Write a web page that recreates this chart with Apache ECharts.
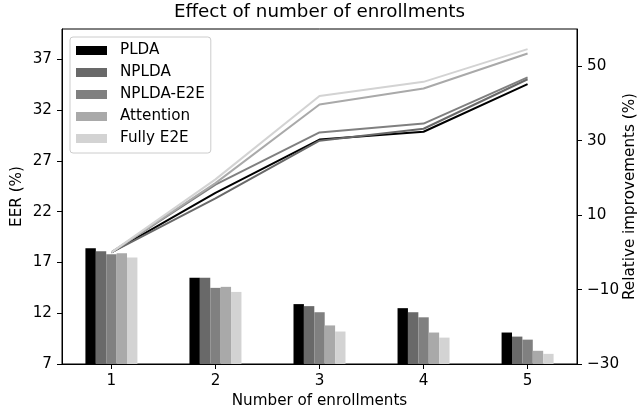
<!DOCTYPE html>
<html>
<head>
<meta charset="utf-8">
<script src="https://cdn.jsdelivr.net/npm/echarts@6/dist/echarts.min.js"></script>
<style>html,body{margin:0;padding:0;background:#fff}#c{width:639px;height:414px}</style>
</head>
<body>
<div id="c"></div>
<script>
// ---- data ----
var categories = [1, 2, 3, 4, 5];
var seriesNames = ['PLDA', 'NPLDA', 'NPLDA-E2E', 'Attention', 'Fully E2E'];
// EER (%) bars
var eerPLDA      = [18.4, 15.5, 12.9, 12.5, 10.1];
var eerNPLDA     = [18.1, 15.5, 12.7, 12.1, 9.7];
var eerNPLDAE2E  = [17.8, 14.5, 12.1, 11.6, 9.4];
var eerAttention = [17.9, 14.6, 10.8, 10.1, 8.3];
var eerFullyE2E  = [17.5, 14.1, 10.2, 9.6, 8.0];
// Relative improvements (%) lines
var relPLDA      = [0, 16.0, 30.3, 32.4, 45.2];
var relNPLDA     = [0, 14.5, 30.0, 33.2, 46.5];
var relNPLDAE2E  = [0, 18.2, 32.2, 34.6, 47.0];
var relAttention = [0, 18.6, 39.7, 44.0, 53.4];
var relFullyE2E  = [0, 19.6, 42.0, 45.8, 54.6];
// tick labels
var leftTicks = [7, 12, 17, 22, 27, 32, 37];
var rightTicks = [-30, -10, 10, 30, 50];
var xTicks = [1, 2, 3, 4, 5];

var colors = ['#000000', '#696969', '#808080', '#a9a9a9', '#d3d3d3'];
var eerAll = [eerPLDA, eerNPLDA, eerNPLDAE2E, eerAttention, eerFullyE2E];
var relAll = [relPLDA, relNPLDA, relNPLDAE2E, relAttention, relFullyE2E];

var FONT = 'DejaVu Sans';
var FS = 15.2;
var series = [];
seriesNames.forEach(function (name, i) {
  series.push({
    name: name, type: 'bar', xAxisIndex: 0, yAxisIndex: 0,
    barWidth: 10.4, barGap: '0%',
    itemStyle: { color: colors[i] },
    data: categories.map(function (c, j) { return [c, eerAll[i][j]]; }),
    z: 2
  });
});
seriesNames.forEach(function (name, i) {
  series.push({
    name: name + ' (rel)', type: 'line', xAxisIndex: 0, yAxisIndex: 1,
    showSymbol: false, symbol: 'none',
    lineStyle: { color: colors[i], width: 2 },
    itemStyle: { color: colors[i] },
    data: categories.map(function (c, j) { return [c, relAll[i][j]]; }),
    z: 3
  });
});

var chart = echarts.init(document.getElementById('c'), null, { renderer: 'canvas' });
chart.setOption({
  animation: false,
  backgroundColor: '#fff',
  textStyle: { fontFamily: FONT },
  title: {
    text: 'Effect of number of enrollments', left: 'center', top: 3, padding: 0,
    textStyle: { fontFamily: FONT, fontSize: 18.3, fontWeight: 'normal', color: '#000' }
  },
  grid: {
    left: 62, right: 62, top: 29, bottom: 50, show: true,
    borderColor: '#000', borderWidth: 1, backgroundColor: 'transparent',
    containLabel: false, outerBoundsMode: 'none'
  },
  legend: {
    orient: 'vertical', left: 70, top: 37,
    data: seriesNames,
    icon: 'rect', itemWidth: 31, itemHeight: 9, itemGap: 7,
    padding: [6, 6, 7, 6],
    borderColor: '#cccccc', borderWidth: 1, borderRadius: 3,
    backgroundColor: 'rgba(255,255,255,0.8)',
    textStyle: { fontFamily: FONT, fontSize: FS, color: '#000', lineHeight: 15, padding: [0, 0, 0, 8] }
  },
  xAxis: {
    type: 'value', min: 0.525, max: 5.475,
    name: 'Number of enrollments', nameLocation: 'middle', nameGap: 30, nameMoveOverlap: false,
    nameTextStyle: { fontFamily: FONT, fontSize: FS, color: '#000' },
    axisLine: { show: true, onZero: false, lineStyle: { color: '#000', width: 1 } },
    axisTick: { show: true, inside: false, length: 5, lineStyle: { color: '#000', width: 1 }, customValues: xTicks },
    axisLabel: { show: true, margin: 10, fontFamily: FONT, fontSize: FS, color: '#000', customValues: xTicks },
    splitLine: { show: false }
  },
  yAxis: [{
    type: 'value', min: 7, max: 40, position: 'left',
    name: 'EER (%)', nameLocation: 'middle', nameGap: 37, nameRotate: 90, nameMoveOverlap: false,
    nameTextStyle: { fontFamily: FONT, fontSize: FS, color: '#000' },
    axisLine: { show: true, onZero: false, lineStyle: { color: '#000', width: 1 } },
    axisTick: { show: true, inside: false, length: 5, lineStyle: { color: '#000', width: 1 }, customValues: leftTicks },
    axisLabel: { show: true, margin: 10, fontFamily: FONT, fontSize: FS, color: '#000', customValues: leftTicks },
    splitLine: { show: false }
  }, {
    type: 'value', min: -30, max: 60, position: 'right',
    name: 'Relative improvements (%)', nameLocation: 'middle', nameGap: 46, nameRotate: 90, nameMoveOverlap: false,
    nameTextStyle: { fontFamily: FONT, fontSize: FS, color: '#000' },
    axisLine: { show: true, onZero: false, lineStyle: { color: '#000', width: 1 } },
    axisTick: { show: true, inside: false, length: 5, lineStyle: { color: '#000', width: 1 }, customValues: rightTicks },
    axisLabel: {
      show: true, margin: 10, fontFamily: FONT, fontSize: FS, color: '#000', customValues: rightTicks,
      formatter: function (v) { return String(v).replace('-', '\u2212'); }
    },
    splitLine: { show: false }
  }],
  series: series
});
</script>
</body>
</html>
